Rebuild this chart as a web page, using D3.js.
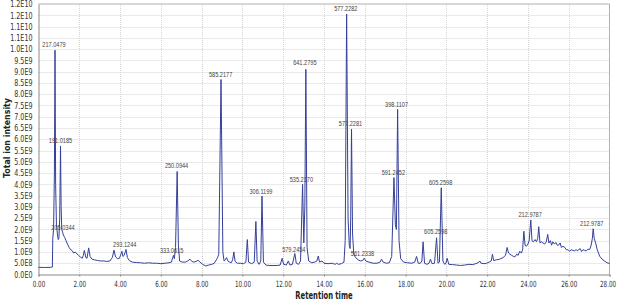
<!DOCTYPE html>
<html>
<head>
<meta charset="utf-8">
<script src="https://cdn.jsdelivr.net/npm/d3@7"></script>
<style>
  body { margin: 0; background: #fff; }
  svg { display: block; }
</style>
</head>
<body>
<svg id="chart" width="617" height="301"></svg>
<script>
// retention time (min) and total ion intensity (x1e9)
const times = [
  0.00, 0.30, 0.60, 0.68, 0.70, 0.74, 0.78, 0.81, 0.84, 0.88, 0.94, 0.97, 1.00, 1.04, 1.08, 1.11,
  1.14, 1.18, 1.22, 1.28, 1.35, 1.42, 1.50, 1.58, 1.66, 1.72, 1.80, 1.88, 1.96, 2.05, 2.14, 2.20,
  2.25, 2.32, 2.38, 2.46, 2.53, 2.62, 2.75, 2.90, 3.05, 3.20, 3.35, 3.50, 3.62, 3.70, 3.78, 3.88,
  3.97, 4.04, 4.09, 4.14, 4.20, 4.29, 4.36, 4.45, 4.60, 4.80, 5.00, 5.20, 5.40, 5.60, 5.80, 6.00,
  6.20, 6.40, 6.52, 6.58, 6.62, 6.66, 6.72, 6.80, 6.86, 6.92, 7.05, 7.20, 7.32, 7.43, 7.52, 7.62,
  7.72, 7.83, 7.92, 8.05, 8.20, 8.35, 8.50, 8.62, 8.72, 8.78, 8.84, 8.95, 9.04, 9.10, 9.16, 9.22,
  9.30, 9.38, 9.45, 9.52, 9.58, 9.64, 9.75, 9.90, 10.05, 10.17, 10.24, 10.30, 10.45, 10.58, 10.66, 10.72,
  10.82, 10.90, 10.96, 11.03, 11.15, 11.30, 11.50, 11.70, 11.85, 11.95, 12.02, 12.15, 12.25, 12.33, 12.45, 12.57,
  12.64, 12.75, 12.85, 12.95, 13.01, 13.06, 13.11, 13.17, 13.25, 13.40, 13.55, 13.65, 13.72, 13.78, 13.90, 14.00,
  14.20, 14.40, 14.55, 14.62, 14.70, 14.85, 14.98, 15.04, 15.11, 15.18, 15.24, 15.28, 15.31, 15.35, 15.40, 15.46,
  15.55, 15.68, 15.80, 15.90, 15.97, 16.05, 16.20, 16.40, 16.60, 16.75, 16.82, 16.90, 17.05, 17.20, 17.32, 17.43,
  17.50, 17.55, 17.61, 17.68, 17.76, 17.90, 18.10, 18.30, 18.45, 18.54, 18.62, 18.72, 18.80, 18.86, 18.93, 19.05,
  19.15, 19.22, 19.30, 19.42, 19.52, 19.59, 19.66, 19.75, 19.83, 19.92, 19.98, 20.04, 20.12, 20.30, 20.50, 20.70,
  20.90, 21.10, 21.30, 21.50, 21.60, 21.64, 21.70, 21.85, 21.97, 22.10, 22.20, 22.26, 22.32, 22.45, 22.62, 22.78,
  22.90, 22.98, 23.05, 23.12, 23.20, 23.30, 23.36, 23.45, 23.52, 23.60, 23.68, 23.74, 23.80, 23.86, 23.92, 24.00,
  24.06, 24.14, 24.20, 24.27, 24.35, 24.42, 24.48, 24.53, 24.59, 24.66, 24.74, 24.82, 24.90, 24.97, 25.03, 25.10,
  25.16, 25.22, 25.30, 25.37, 25.44, 25.50, 25.58, 25.64, 25.72, 25.81, 25.88, 25.96, 26.05, 26.12, 26.20, 26.28,
  26.36, 26.44, 26.50, 26.57, 26.63, 26.70, 26.78, 26.86, 26.94, 27.03, 27.10, 27.16, 27.20, 27.25, 27.32, 27.40,
  27.52, 27.64, 27.77, 27.88, 28.00
];
const intensity = [
  0.32, 0.31, 0.32, 0.33, 1.60, 2.00, 4.50, 9.95, 4.00, 2.20, 1.70, 1.55, 1.60, 2.50, 5.70, 3.00,
  2.00, 1.88, 1.75, 1.65, 1.50, 1.35, 1.20, 1.10, 1.05, 0.95, 1.00, 0.92, 0.85, 0.78, 0.72, 0.85,
  1.07, 0.75, 0.72, 1.18, 0.80, 0.68, 0.65, 0.62, 0.60, 0.60, 0.58, 0.60, 0.75, 1.08, 0.78, 0.70,
  0.72, 0.90, 1.03, 0.80, 0.85, 1.11, 0.75, 0.62, 0.55, 0.53, 0.52, 0.50, 0.52, 0.50, 0.50, 0.48,
  0.50, 0.52, 0.55, 0.75, 0.85, 0.70, 1.20, 4.57, 1.30, 0.60, 0.55, 0.55, 0.60, 0.68, 0.58, 0.55,
  0.58, 0.63, 0.55, 0.45, 0.38, 0.42, 0.45, 0.50, 0.65, 0.75, 0.90, 8.65, 1.00, 0.60, 0.65, 0.75,
  0.58, 0.55, 0.52, 0.65, 1.00, 0.58, 0.50, 0.50, 0.48, 0.55, 1.55, 0.55, 0.48, 0.55, 2.35, 0.60,
  0.45, 0.60, 3.48, 0.55, 0.42, 0.40, 0.40, 0.40, 0.42, 0.72, 0.45, 0.42, 0.60, 0.42, 0.45, 0.93,
  0.50, 0.45, 0.60, 4.00, 1.40, 3.00, 9.10, 1.20, 0.60, 0.52, 0.55, 0.60, 0.82, 0.55, 0.60, 0.50,
  0.48, 0.50, 0.45, 0.50, 0.45, 0.48, 0.55, 1.50, 11.55, 2.50, 1.30, 1.15, 2.50, 6.45, 1.80, 0.90,
  0.75, 0.65, 0.60, 0.62, 0.72, 0.60, 0.55, 0.50, 0.50, 0.55, 0.68, 0.55, 0.50, 0.52, 0.80, 4.30,
  2.20, 2.00, 7.33, 1.50, 0.70, 0.55, 0.52, 0.50, 0.55, 0.80, 0.50, 0.50, 0.60, 1.45, 0.50, 0.45,
  0.50, 0.68, 0.48, 0.50, 1.63, 0.50, 0.55, 3.85, 0.60, 0.45, 0.50, 0.72, 0.45, 0.44, 0.42, 0.40,
  0.42, 0.45, 0.44, 0.50, 0.55, 0.60, 0.50, 0.48, 0.50, 0.55, 0.60, 0.90, 0.62, 0.65, 0.68, 0.75,
  0.85, 1.20, 0.95, 0.90, 0.85, 0.80, 0.78, 0.90, 0.85, 1.03, 0.95, 1.10, 1.92, 1.30, 1.25, 1.35,
  1.50, 2.42, 1.50, 1.45, 1.55, 1.45, 1.60, 2.12, 1.40, 1.45, 1.40, 1.35, 1.45, 1.78, 1.40, 1.50,
  1.30, 1.45, 1.35, 1.42, 1.30, 1.30, 1.40, 1.20, 1.25, 1.20, 1.10, 1.10, 1.03, 1.10, 1.07, 1.05,
  1.10, 1.05, 1.12, 1.14, 1.02, 1.10, 1.07, 1.05, 1.12, 1.11, 1.30, 1.60, 2.03, 1.60, 1.40, 1.10,
  0.81, 0.68, 0.59, 0.52, 0.49
];

// peak annotations: m/z text and where it sits (time, intensity x1e9)
const peakLabels = ["217.0479", "191.0185", "205.0344", "293.1244", "333.0615", "250.0944", "585.2177",
  "306.1199", "535.2170", "579.2454", "641.2795", "577.2282", "577.2281", "561.2338", "398.1107",
  "591.2452", "605.2598", "605.2598", "212.9787", "212.9787"];
const labelTimes = [0.76, 1.08, 1.20, 4.23, 6.53, 6.77, 8.93, 10.91, 12.89, 12.52, 13.06, 15.07, 15.30,
  15.89, 17.56, 17.40, 19.72, 19.48, 24.11, 27.13];
const labelValues = [10.2, 5.93, 2.08, 1.31, 1.06, 4.82, 8.87, 3.68, 4.23, 1.12, 9.39, 11.8, 6.68,
  0.91, 7.53, 4.52, 4.08, 1.89, 2.64, 2.26];

const xTicks = d3.range(0, 28.01, 2);
const xTickLabels = ["0.00", "2.00", "4.00", "6.00", "8.00", "10.00", "12.00", "14.00", "16.00",
  "18.00", "20.00", "22.00", "24.00", "26.00", "28.00"];
const yTicks = d3.range(0, 12.01, 0.5);
const yTickLabels = ["0.0E0", "5.0E8", "1.0E9", "1.5E9", "2.0E9", "2.5E9", "3.0E9", "3.5E9", "4.0E9",
  "4.5E9", "5.0E9", "5.5E9", "6.0E9", "6.5E9", "7.0E9", "7.5E9", "8.0E9", "8.5E9", "9.0E9", "9.5E9",
  "1.0E10", "1.1E10", "1.1E10", "1.2E10", "1.2E10"];

const mLeft = 38.5, mRight = 609.5, mTop = 4, mBottom = 274.5;
const svg = d3.select("#chart");

const x = d3.scaleLinear().domain([0, 28]).range([mLeft, mRight]);
const y = d3.scaleLinear().domain([0, 12]).range([mBottom, mTop]);

// squeeze text horizontally like the reference
function squeeze(sel, f) {
  sel.each(function () {
    const w = this.getComputedTextLength();
    d3.select(this).attr("textLength", w * f).attr("lengthAdjust", "spacingAndGlyphs");
  });
}

// grid
svg.append("g")
  .selectAll("line")
  .data(yTicks.slice(1, -1))
  .join("line")
  .attr("x1", mLeft).attr("x2", mRight)
  .attr("y1", d => Math.round(y(d)) + 0.5).attr("y2", d => Math.round(y(d)) + 0.5)
  .attr("stroke", "#d4d4d4").attr("stroke-dasharray", "1,1");
svg.append("g")
  .selectAll("line")
  .data(xTicks.slice(1, -1))
  .join("line")
  .attr("x1", d => Math.round(x(d)) + 0.5).attr("x2", d => Math.round(x(d)) + 0.5)
  .attr("y1", mTop).attr("y2", mBottom)
  .attr("stroke", "#d4d4d4").attr("stroke-dasharray", "1,1");

// frame
svg.append("path")
  .attr("d", `M${mLeft},${mTop}H${mRight}V${mBottom}`)
  .attr("fill", "none").attr("stroke", "#b0b0b0");

// axes
const xAxis = svg.append("g")
  .attr("transform", `translate(0,${mBottom})`)
  .call(d3.axisBottom(x).tickValues(xTicks).tickSize(2).tickFormat((d, i) => xTickLabels[i]));
const yAxis = svg.append("g")
  .attr("transform", `translate(${mLeft},0)`)
  .call(d3.axisLeft(y).tickValues(yTicks).tickSize(0).tickPadding(6).tickFormat((d, i) => yTickLabels[i]));

[xAxis, yAxis].forEach(a => {
  a.select(".domain").attr("stroke", "#8a8a8a");
  a.selectAll(".tick line").attr("stroke", "#8a8a8a");
  a.selectAll("text").attr("font-family", "DejaVu Sans, Verdana, sans-serif")
    .attr("font-size", 8.5).attr("fill", "#333");
});
// x labels: narrowed with a scale so their boxes stay true
xAxis.selectAll("text").attr("dy", "0.9em").attr("transform", "scale(0.66,1)");
squeeze(yAxis.selectAll("text"), 0.75);
xAxis.selectAll(".tick:last-of-type text").attr("dx", -3);

// trace
const pts = times.map((t, i) => [t, intensity[i]]);
svg.append("path")
  .datum(pts)
  .attr("d", d3.line().x(d => x(d[0])).y(d => y(d[1])))
  .attr("fill", "none")
  .attr("stroke", "#34409a")
  .attr("stroke-width", 1)
  .attr("stroke-linejoin", "round");

// peak labels
const lab = svg.append("g")
  .selectAll("text")
  .data(peakLabels)
  .join("text")
  .attr("x", (d, i) => x(labelTimes[i]))
  .attr("y", (d, i) => y(labelValues[i]))
  .attr("dy", "0.35em")
  .attr("text-anchor", "middle")
  .attr("font-family", "Liberation Sans, Arial, sans-serif")
  .attr("font-size", 7)
  .attr("fill", "#444")
  .text(d => d);
squeeze(lab, 0.8);

// axis titles
const xt = svg.append("text")
  .attr("x", 324).attr("y", 299)
  .attr("text-anchor", "middle")
  .attr("font-family", "DejaVu Sans, Verdana, sans-serif")
  .attr("font-weight", "bold").attr("font-size", 10).attr("fill", "#222")
  .text("Retention time");
squeeze(xt, 0.68);
svg.append("text")
  .attr("transform", "translate(10,138) rotate(-90)")
  .attr("text-anchor", "middle")
  .attr("font-family", "DejaVu Sans, Verdana, sans-serif")
  .attr("font-weight", "bold").attr("font-size", 9).attr("fill", "#222")
  .attr("textLength", 80).attr("lengthAdjust", "spacingAndGlyphs")
  .text("Total ion intensity");
</script>
</body>
</html>
